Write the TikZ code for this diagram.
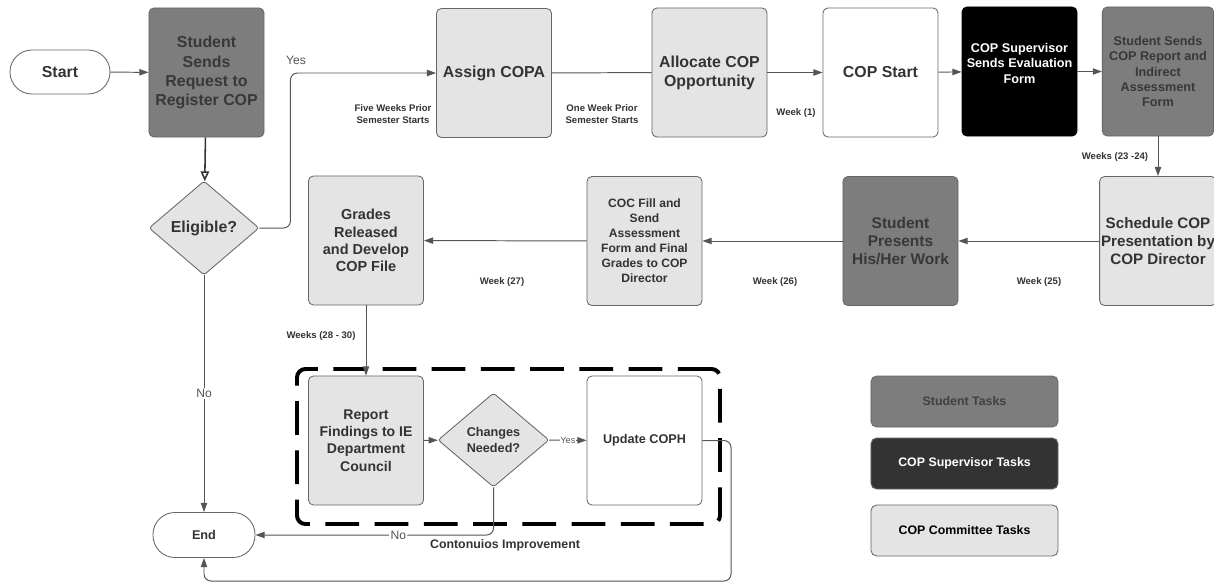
\documentclass[tikz,border=0pt]{standalone}
\usepackage{fontspec}
\setmainfont{Liberation Sans}
\usetikzlibrary{positioning, arrows.meta, shapes.geometric, fit}

\definecolor{stugray}{HTML}{7D7D7D}
\definecolor{comgray}{HTML}{E4E4E4}
\definecolor{legdark}{HTML}{333333}
\definecolor{edgegray}{HTML}{666666}
\definecolor{linegray}{HTML}{555555}
\definecolor{txtgray}{HTML}{333333}

\begin{document}
\begin{tikzpicture}[
  x=0.025cm, y=-0.025cm,
  every node/.style={font=\bfseries\fontsize{11.3}{13.6}\selectfont, text=txtgray},
  task/.style={
    rectangle, draw=edgegray, line width=0.6pt, rounded corners=3.5pt,
    minimum width=2.875cm, minimum height=3.225cm,
    align=center, inner sep=1pt
  },
  stu/.style={task, fill=stugray, text=black!78},
  com/.style={task, fill=comgray},
  sup/.style={task, fill=black, draw=black, text=white},
  term/.style={
    rectangle, rounded corners=0.55cm, draw=edgegray, line width=0.6pt,
    fill=white, minimum width=2.5cm, minimum height=1.1cm
  },
  dec/.style={
    diamond, draw=edgegray, line width=0.6pt, fill=comgray, rounded corners=2pt,
    minimum width=2.75cm, minimum height=2.35cm, inner sep=0pt, align=center
  },
  leg/.style={
    rectangle, rounded corners=4pt, draw=edgegray, line width=0.6pt,
    minimum width=4.675cm, minimum height=1.275cm,
    font=\bfseries\fontsize{8.8}{10}\selectfont
  },
  mid/.style={font=\bfseries\fontsize{9}{11}\selectfont},
  wk/.style={font=\bfseries\fontsize{6.8}{8}\selectfont, align=center},
  lbl/.style={font=\fontsize{8.6}{10}\selectfont, text=linegray, fill=white, inner sep=1pt},
  line/.style={draw=linegray, line width=0.7pt},
  arr/.style={line, -{Triangle[length=6.5pt, width=4.5pt]}},
  ciframe/.style={draw=black, line width=2.8pt, rounded corners=6pt,
    dash pattern=on 24pt off 11pt, inner sep=0pt},
]
\path[fill=white, use as bounding box] (0,0) rectangle (1214,587);

%% Row 1: registration and COP
\node[term] (start) at (60,72) {Start};
\node[stu] (req) at (206.5,72.5) {Student\\Sends\\Request to\\Register COP};
\node[com] (copa) at (494,73) {Assign COPA};
\node[com] (alloc) at (709.5,72.5) {Allocate COP\\Opportunity};
\node[task, fill=white] (cstart) at (880.5,72.5) {COP Start};
\node[sup, mid] (eval) at (1019.5,71.5) {COP Supervisor\\Sends Evaluation\\Form\\[1pt]\mbox{}};
\node[stu, mid, minimum width=2.78cm] (rep) at (1158,71.5)
  {Student Sends\\COP Report and\\Indirect\\Assessment\\Form};

%% Row 2: presentation and grading
\node[dec] (elig) at (204,228) {Eligible?};
\node[com, minimum width=2.78cm, font=\bfseries\fontsize{10.8}{12.8}\selectfont] (sched) at (1158,241)
  {Schedule COP\\Presentation by\\COP Director};
\node[stu, font=\bfseries\fontsize{11}{13}\selectfont] (pres) at (900.5,241)
  {Student\\Presents\\His/Her Work};
\node[com, font=\bfseries\fontsize{8.6}{10.7}\selectfont] (coc) at (644.5,241)
  {COC Fill and\\Send\\Assessment\\Form and Final\\Grades to COP\\Director};
\node[com, font=\bfseries\fontsize{10.3}{12.3}\selectfont] (grades) at (366,240.5)
  {Grades\\Released\\and Develop\\COP File};

%% Row 3: continuous improvement
\node[com, font=\bfseries\fontsize{10}{12.2}\selectfont] (report) at (366,440.5)
  {Report\\Findings to IE\\Department\\Council};
\node[dec, mid, minimum width=2.775cm] (chg) at (493.5,440) {Changes\\Needed?};
\node[task, fill=white, mid] (coph) at (644.5,440.5) {Update COPH};
\node[term, mid, minimum width=2.55cm, minimum height=1.125cm] (end) at (204,535) {End};
\node[ciframe, fit={(297,369) (720,524)}] (ci) {};
\node[font=\bfseries\fontsize{8.8}{10}\selectfont] (cilbl) at (505,545) {Contonuios Improvement};

%% Legend
\node[leg, fill=stugray, text=black!75] (legstu) at (964.5,401.5) {Student Tasks};
\node[leg, fill=legdark, text=white] (legsup) at (964.5,463.5) {COP Supervisor Tasks};
\node[leg, fill=comgray, text=black] (legcom) at (964.5,530.5) {COP Committee Tasks};

%% Week labels
\node[wk] (w0) at (393,114) {Five Weeks Prior\\Semester Starts};
\node[wk] (w00) at (602,114) {One Week Prior\\Semester Starts};
\node[wk] (w1) at (796,113) {Week (1)};
\node[wk] (w23) at (1115,157) {Weeks (23 -24)};
\node[wk] (w25) at (1039,282) {Week (25)};
\node[wk] (w26) at (775,282) {Week (26)};
\node[wk] (w27) at (502,282) {Week (27)};
\node[wk] (w28) at (321,336) {Weeks (28 - 30)};
\node[lbl] (yes1) at (296,60) {Yes};

%% Arrows
\draw[arr] (start) -- (req);
\draw[draw=black!80, line width=1.1pt, -{Triangle[open, length=7pt, width=6pt]}] (req) -- (elig);
\draw[arr, rounded corners=5pt] (elig.east) -- ++(31,0) |- (copa.west);
\draw[line] (copa) -- (alloc);
\draw[arr] (alloc) -- (cstart);
\draw[arr] (cstart) -- (eval);
\draw[arr] (eval) -- (rep);
\draw[arr] (rep) -- (sched);
\draw[arr] (sched) -- (pres);
\draw[arr] (pres) -- (coc);
\draw[arr] (coc) -- (grades);
\draw[arr] (grades) -- (report);
\draw[arr] (report) -- (chg);
\draw[arr] (chg) -- (coph) node[midway, lbl, font=\fontsize{6.5}{7}\selectfont, inner sep=0.5pt] {Yes};
\draw[arr] (elig) -- (end) node[midway, lbl] {No};
\draw[arr, rounded corners=5pt] (chg.south) |- (end.east) node[pos=0.7, lbl] {No};
\coordinate (loop) at (731,581);
\draw[arr, rounded corners=5pt] (coph.east) -| (loop) -| (end.south);

\end{tikzpicture}
\end{document}
